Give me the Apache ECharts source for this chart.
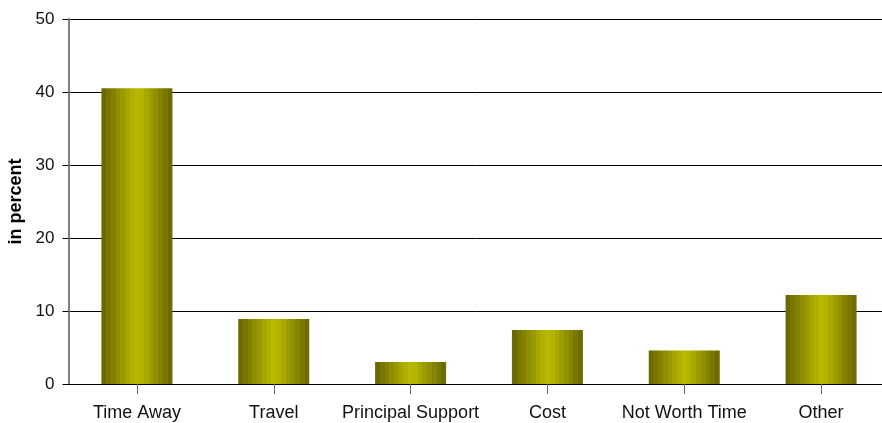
<!DOCTYPE html>
<html><head><meta charset="utf-8">
<script src="https://cdn.jsdelivr.net/npm/echarts@6/dist/echarts.min.js"></script>
<style>html,body{margin:0;padding:0;background:#fff}#c{width:882px;height:423px}</style>
</head><body><div id="c"></div>
<script>
const categories = ['Time Away', 'Travel', 'Principal Support', 'Cost', 'Not Worth Time', 'Other'];
const values = [40.5, 8.9, 3.0, 7.4, 4.6, 12.2];
const yTicks = [0, 10, 20, 30, 40, 50];
const yTitle = 'in percent';

const stripeColors = ['#6a6a00','#767600','#828200','#8e8e00','#9a9a00','#a6a600','#b0b000','#b8b800','#b4b400','#a8a800','#9c9c00','#909000','#848400','#787800','#6c6c00'];
const stops = [];
stripeColors.forEach((c, i) => {
  stops.push({offset: i / stripeColors.length, color: c});
  stops.push({offset: (i + 1) / stripeColors.length - 0.0001, color: c});
});
const chart = echarts.init(document.getElementById('c'));
chart.setOption({
  animation: false,
  grid: {left: 68.5, top: 19, width: 821, height: 365, containLabel: false, outerBoundsMode: 'none'},
  xAxis: {
    type: 'category', data: categories,
    axisLine: {lineStyle: {color: '#000', width: 1}},
    axisTick: {show: true, alignWithLabel: true, length: 10, lineStyle: {color: '#666'}},
    axisLabel: {interval: 0, fontFamily: 'Liberation Sans', fontSize: 18, color: '#111', margin: 20}
  },
  yAxis: {
    type: 'value', min: yTicks[0], max: yTicks[yTicks.length - 1], interval: 10,
    name: yTitle, nameLocation: 'middle', nameGap: 41,
    nameTextStyle: {fontFamily: 'Liberation Sans', fontSize: 18, fontWeight: 'bold', color: '#000'},
    axisLine: {show: true, lineStyle: {color: '#808080', width: 2}},
    axisTick: {show: true, length: 6, lineStyle: {color: '#000'}},
    axisLabel: {fontFamily: 'Liberation Sans', fontSize: 17, color: '#111', margin: 14},
    splitLine: {lineStyle: {color: '#000', width: 1}}
  },
  series: [{
    type: 'bar', data: values, barWidth: 71,
    itemStyle: {
      color: {type: 'linear', x: 0, y: 0, x2: 1, y2: 0, colorStops: stops}
    }
  }]
});
</script></body></html>
